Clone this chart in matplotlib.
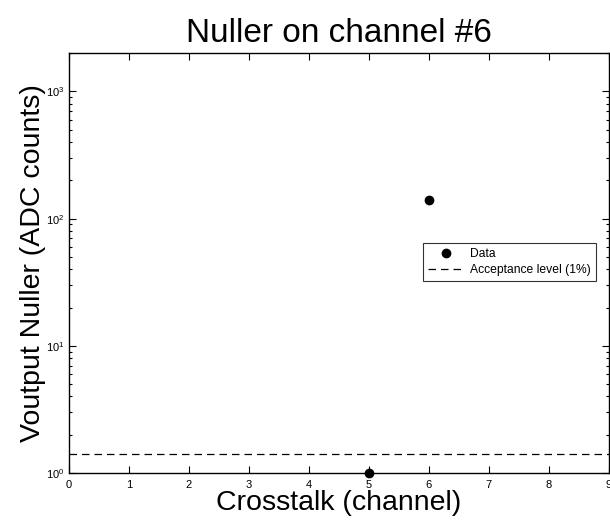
import matplotlib
matplotlib.use('Agg')
import matplotlib.pyplot as plt
import numpy as np

plt.rcParams['font.family'] = ['Liberation Sans', 'DejaVu Sans']
plt.rcParams['mathtext.fontset'] = 'custom'
plt.rcParams['mathtext.rm'] = 'Liberation Sans'

# data
channels = [5, 6]
voutput = [1.0, 140.0]
acceptance = 1.4  # 1% level
x_ticks = list(range(0, 10))

fig = plt.figure(figsize=(6.10, 5.21), dpi=100)
ax = fig.add_axes([0.113, 0.092, 0.885, 0.806])

ax.plot(channels, voutput, 'o', color='black', markersize=6, label='Data',
        clip_on=False, zorder=3)
ax.axhline(acceptance, color='black', linestyle=(0, (6, 4)), linewidth=0.9,
           label='Acceptance level (1%)')

ax.set_yscale('log')
ax.set_xlim(0, 9)
ax.set_ylim(1, 2000)
ax.set_xticks(x_ticks)
ax.tick_params(which='both', direction='in', top=True, right=True,
               labelsize=8, width=0.8)
ax.tick_params(which='major', length=5)
ax.tick_params(which='minor', length=2.5)
ax.tick_params(axis='x', pad=5)
ax.tick_params(axis='y', pad=3)
for s in ax.spines.values():
    s.set_linewidth(1.0)

ax.set_title('Nuller on channel #6', fontsize=24, pad=8)
ax.set_xlabel('Crosstalk (channel)', fontsize=20.5, labelpad=0)
ax.set_ylabel('Voutput Nuller (ADC counts)', fontsize=20.5, labelpad=0)

leg = ax.legend(loc='upper right', bbox_to_anchor=(0.976, 0.548), fontsize=8.7,
                frameon=True, fancybox=False, edgecolor='black',
                borderpad=0.4, handlelength=3, labelspacing=0.35,
                handletextpad=0.5, borderaxespad=0)
leg.get_frame().set_linewidth(0.8)

fig.savefig('out.png', dpi=100)
